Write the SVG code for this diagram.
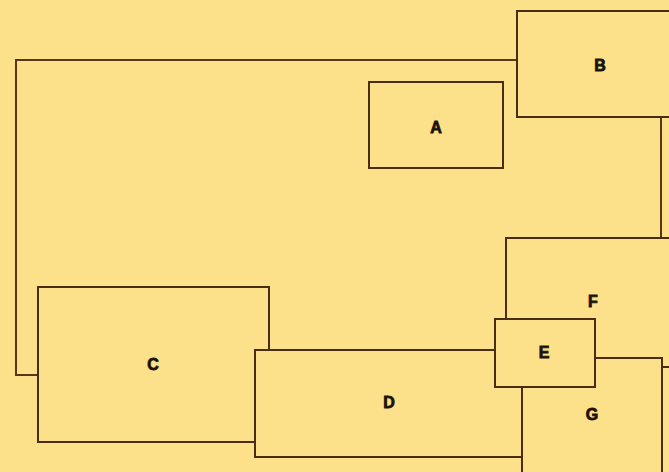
<svg xmlns="http://www.w3.org/2000/svg" width="669" height="472" viewBox="0 0 669 472">
<style>
.box{fill:#fce08a;stroke:#4a2c12;stroke-width:2}
.con{fill:none;stroke:#5a3514;stroke-width:2}
.lbl{font-family:"Liberation Sans",Arial,sans-serif;font-weight:bold;font-size:16px;fill:#1a1208;stroke:#1a1208;stroke-width:0.8;text-anchor:middle;dominant-baseline:central}
</style>
<rect width="669" height="472" fill="#fce08a"/>
<g id="connectors">
<path class="con" d="M517,60 H16 V375 H38"/>
<path class="con" d="M661,117 V238"/>
</g>
<g id="A"><rect class="box" x="369" y="82" width="134" height="86"/><text class="lbl" x="436" y="127">A</text></g>
<g id="B"><rect class="box" x="517" y="11" width="170" height="106"/><text class="lbl" x="600" y="65">B</text></g>
<g id="C"><rect class="box" x="38" y="287" width="231" height="155"/><text class="lbl" x="153" y="364">C</text></g>
<g id="D"><rect class="box" x="255" y="350" width="280" height="107"/><text class="lbl" x="389" y="402">D</text></g>
<g id="F"><rect class="box" x="506" y="238" width="180" height="129"/><text class="lbl" x="593" y="301">F</text></g>
<g id="G"><rect class="box" x="522" y="358" width="140" height="120"/><text class="lbl" x="592" y="414">G</text></g>
<g id="E"><rect class="box" x="495" y="319" width="100" height="68"/><text class="lbl" x="544" y="352">E</text></g>
</svg>
